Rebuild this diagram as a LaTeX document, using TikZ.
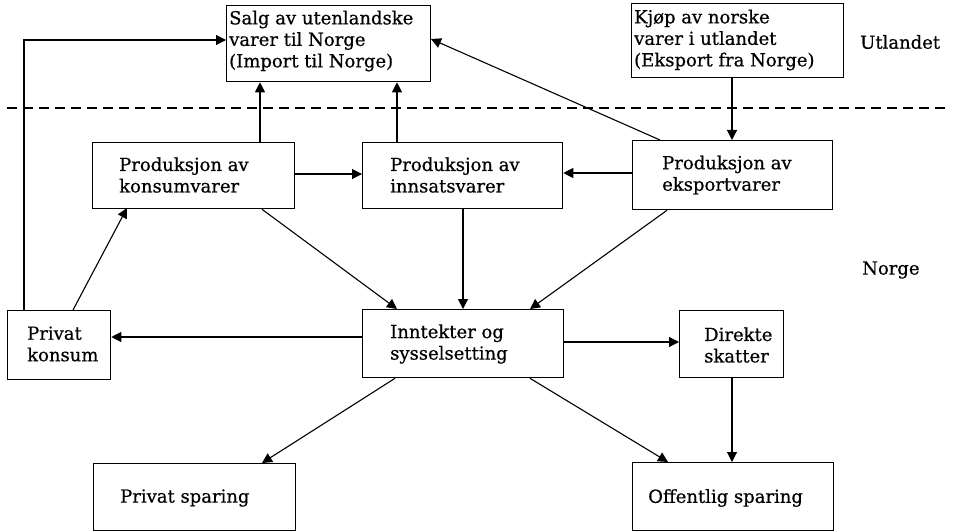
\documentclass[tikz,border=0pt]{standalone}
\usepackage{fontspec}
\setmainfont{DejaVu Serif}
\newfontfamily\diagfont[FakeBold=0.6]{DejaVu Serif}
\usetikzlibrary{arrows.meta}
\begin{document}
\begin{tikzpicture}[x=1pt,y=-1pt,
  box/.style={draw,line width=1.3pt,anchor=north west,inner sep=0pt},
  txt/.style={anchor=west,align=left,inner sep=0pt,font=\diagfont\fontsize{18}{21.5}\selectfont},
  arr/.style={line width=1.1pt,-{Triangle[length=10pt,width=10pt]}},
  ln/.style={line width=1.1pt}]
\useasboundingbox (0,0) rectangle (956,532);
% boxes
\node[box,minimum width=204,minimum height=76] (imp) at (226,5) {};
\node[box,minimum width=212,minimum height=74] (exp) at (631,3) {};
\node[box,minimum width=202,minimum height=66] (pk) at (92,142) {};
\node[box,minimum width=200,minimum height=66] (pi) at (362,142) {};
\node[box,minimum width=200,minimum height=69] (pe) at (632,140) {};
\node[box,minimum width=201,minimum height=68] (inn) at (362,309) {};
\node[box,minimum width=103,minimum height=69] (prk) at (7,310) {};
\node[box,minimum width=104,minimum height=67] (dir) at (679,310) {};
\node[box,minimum width=202,minimum height=67] (ps) at (93,463) {};
\node[box,minimum width=201,minimum height=68] (os) at (632,462) {};
% texts
\node[txt] (impt) at (229,41) {Salg av utenlandske\\varer til Norge\\(Import til Norge)};
\node[txt] (expt) at (634,40) {Kjøp av norske\\varer i utlandet\\(Eksport fra Norge)};
\node[txt] (pkt) at (119,175) {Produksjon av\\konsumvarer};
\node[txt] (pit) at (390,175) {Produksjon av\\innsatsvarer};
\node[txt] (pet) at (662,175) {Produksjon av\\eksportvarer};
\node[txt] (innt) at (390,344) {Inntekter og\\sysselsetting};
\node[txt] (prkt) at (27,344) {Privat\\konsum};
\node[txt] (dirt) at (704,345) {Direkte\\skatter};
\node[txt] (pst) at (120,498) {Privat sparing};
\node[txt] (ost) at (648,498) {Offentlig sparing};
\node[txt] (utl) at (860,42) {Utlandet};
\node[txt] (nor) at (862,270) {Norge};
% dashed divider
\coordinate (dl) at (7,108);
\coordinate (dr) at (950,108);
\draw[ln,dash pattern=on 10pt off 6pt] (dl) -- (dr);
% connectors
\draw[arr] (prk.north west -| 24,0) |- (imp.west |- 0,40);
\draw[arr] (pk.north -| 260,0) -- (imp.south -| 260,0);
\draw[arr] (pi.north -| 397,0) -- (imp.south -| 397,0);
\draw[arr] (pe.north -| 660,0) -- (431,39);
\draw[arr] (exp.south -| 732,0) -- (pe.north -| 732,0);
\draw[arr] (pk.east |- 0,174) -- (pi.west |- 0,174);
\draw[arr] (pe.west |- 0,173) -- (pi.east |- 0,173);
\draw[arr] (prk.north -| 73,0) -- (127,208);
\draw[arr] (pk.south -| 262,0) -- (397,309);
\draw[arr] (pi.south -| 463,0) -- (inn.north -| 463,0);
\draw[arr] (pe.south -| 667,0) -- (530,309);
\draw[arr] (inn.west |- 0,337) -- (prk.east |- 0,337);
\draw[arr] (inn.east |- 0,342) -- (dir.west |- 0,342);
\draw[arr] (inn.south -| 395,0) -- (262,463);
\draw[arr] (inn.south -| 530,0) -- (668,462);
\draw[arr] (dir.south -| 732,0) -- (os.north -| 732,0);
\end{tikzpicture}
\end{document}
